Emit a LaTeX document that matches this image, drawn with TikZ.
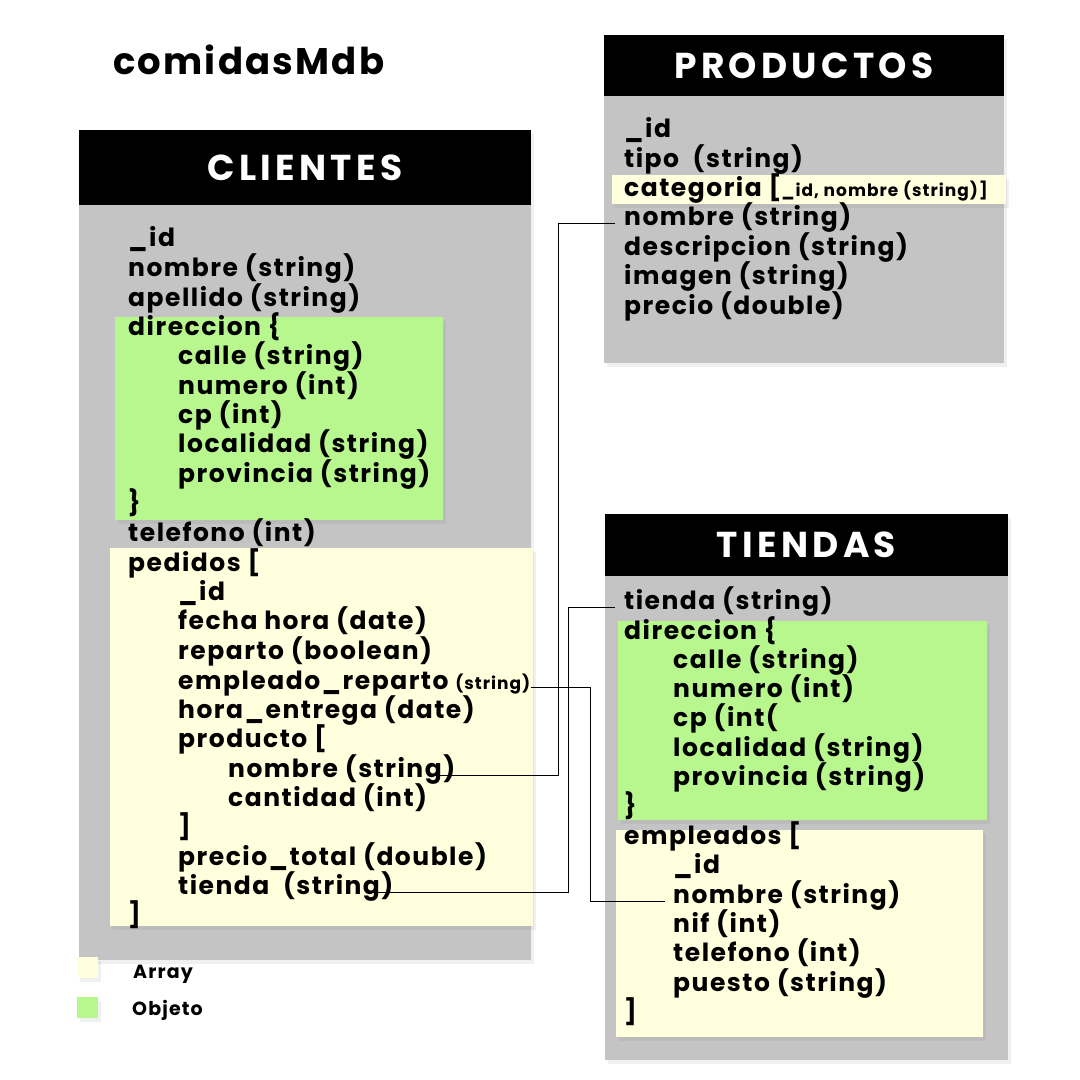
\documentclass[tikz,border=0pt]{standalone}
\usepackage{fontspec}
\setmainfont{Poppins}[LetterSpace=6]
\newfontfamily\titulofont{Poppins}[LetterSpace=12]
\usetikzlibrary{shadows}

\definecolor{gris}{RGB}{196,196,196}
\definecolor{verde}{RGB}{184,247,142}
\definecolor{amarillo}{RGB}{255,255,221}

\tikzset{
  sombra/.style={drop shadow={opacity=0.12, shadow xshift=3pt, shadow yshift=-4pt}},
  caja/.style={fill=gris, sombra},
  objeto/.style={fill=verde, sombra},
  array/.style={fill=amarillo, sombra},
  cabecera/.style={fill=black, text=white, inner sep=0pt, font=\titulofont\fontsize{36}{36}\selectfont\bfseries},
  campo/.style={anchor=west, inner sep=0pt, yshift=-7pt, text height=0.75em, text depth=0.2em, font=\fontsize{25}{25}\selectfont\bfseries},
  enlace/.style={draw=black, line width=0.8pt}
}
\newcommand{\peq}[1]{{\fontsize{17}{17}\selectfont #1}}

\begin{document}
\begin{tikzpicture}[x=1pt, y=-1pt]
\useasboundingbox (0,0) rectangle (1080,1080);

% titulo
\node[campo, font=\fontsize{37}{37}\selectfont\bfseries] (titulo) at (113,65) {comidasMdb};

% cajas
\fill[caja] (79,130) rectangle (531,960);
\fill[caja] (604,35) rectangle (1004,363);
\fill[caja] (605,514) rectangle (1008,1060);
\fill[objeto] (115,317) rectangle (443,520);
\fill[array] (110,548) rectangle (533,926);
\fill[array] (612,175) rectangle (1006,204);
\fill[objeto] (618,621) rectangle (987,820);
\fill[array] (616,830) rectangle (983,1037);

\node[cabecera, minimum width=452pt, minimum height=75pt] (clientes) at (305,167.5) {CLIENTES};
\node[cabecera, minimum width=400pt, minimum height=61pt] (productos) at (804,65.5) {PRODUCTOS};
\node[cabecera, minimum width=403pt, minimum height=62pt] (tiendas) at (806.5,545) {TIENDAS};

% CLIENTES
\node[campo] (cid) at (128,237) {\_id};
\node[campo] (cnombre) at (128,267) {nombre (string)};
\node[campo] (capellido) at (128,297) {apellido (string)};
\node[campo] (cdir) at (128,326) {direccion \{};
\node[campo] (ccalle) at (178,355) {calle (string)};
\node[campo] (cnumero) at (178,385) {numero (int)};
\node[campo] (ccp) at (178,414) {cp (int)};
\node[campo] (clocalidad) at (178,443) {localidad (string)};
\node[campo] (cprovincia) at (178,473) {provincia (string)};
\node[campo] (cdirfin) at (128,502) {\}};
\node[campo] (ctelefono) at (128,532) {telefono (int)};
\node[campo] (cpedidos) at (128,562) {pedidos [};
\node[campo] (cpid) at (178,591) {\_id};
\node[campo] (cfecha) at (178,620) {fecha hora (date)};
\node[campo] (creparto) at (178,650) {reparto (boolean)};
\node[campo] (cempleado) at (178,680) {empleado\_reparto \peq{(string)}};
\node[campo] (chora) at (178,709) {hora\_entrega (date)};
\node[campo] (cproducto) at (178,738) {producto [};
\node[campo] (cpnombre) at (228,768) {nombre (string)};
\node[campo] (ccantidad) at (228,797) {cantidad (int)};
\node[campo] (cproductofin) at (178,826) {]};
\node[campo] (cprecio) at (178,856) {precio\_total (double)};
\node[campo] (ctienda) at (178,885) {tienda\ \ (string)};
\node[campo] (cpedidosfin) at (128,914) {]};

% PRODUCTOS
\node[campo] (pid) at (624,128) {\_id};
\node[campo] (ptipo) at (624,158) {tipo\ \ (string)};
\node[campo] (pcategoria) at (624,187) {categoria [\peq{\_id, nombre (string)]}};
\node[campo] (pnombre) at (624,216) {nombre (string)};
\node[campo] (pdescripcion) at (624,246) {descripcion (string)};
\node[campo] (pimagen) at (624,275) {imagen (string)};
\node[campo] (pprecio) at (624,305) {precio (double)};

% TIENDAS
\node[campo] (ttienda) at (624,600) {tienda (string)};
\node[campo] (tdir) at (624,630) {direccion \{};
\node[campo] (tcalle) at (673,659) {calle (string)};
\node[campo] (tnumero) at (673,688) {numero (int)};
\node[campo] (tcp) at (673,717) {cp (int(};
\node[campo] (tlocalidad) at (673,747) {localidad (string)};
\node[campo] (tprovincia) at (673,776) {provincia (string)};
\node[campo] (tdirfin) at (624,805) {\}};
\node[campo] (templeados) at (624,835) {empleados [};
\node[campo] (tid) at (673,864) {\_id};
\node[campo] (tnombre) at (673,894) {nombre (string)};
\node[campo] (tnif) at (673,923) {nif (int)};
\node[campo] (ttelefono) at (673,952) {telefono (int)};
\node[campo] (tpuesto) at (673,982) {puesto (string)};
\node[campo] (templeadosfin) at (624,1011) {]};

% leyenda
\fill[array] (77,957) rectangle (98,978);
\fill[objeto] (77,997) rectangle (98,1018);
\node[campo, font=\fontsize{19}{19}\selectfont\bfseries] (larray) at (133,969) {Array};
\node[campo, font=\fontsize{19}{19}\selectfont\bfseries] (lobjeto) at (132,1006) {Objeto};

% enlaces
\coordinate (via1) at (558,0);
\coordinate (via2) at (568,0);
\coordinate (via3) at (590,0);
\draw[enlace] ([xshift=-9pt]pnombre.west) -- (pnombre.west -| via1) |- ([xshift=-24pt]cpnombre.east);
\draw[enlace] ([xshift=-28pt]ctienda.east) -| (ttienda.west -| via2) -- ([xshift=-9pt]ttienda.west);
\draw[enlace] (cempleado.east) -| (tnombre.west -| via3) -- ([xshift=-8pt]tnombre.west);
\end{tikzpicture}
\end{document}
